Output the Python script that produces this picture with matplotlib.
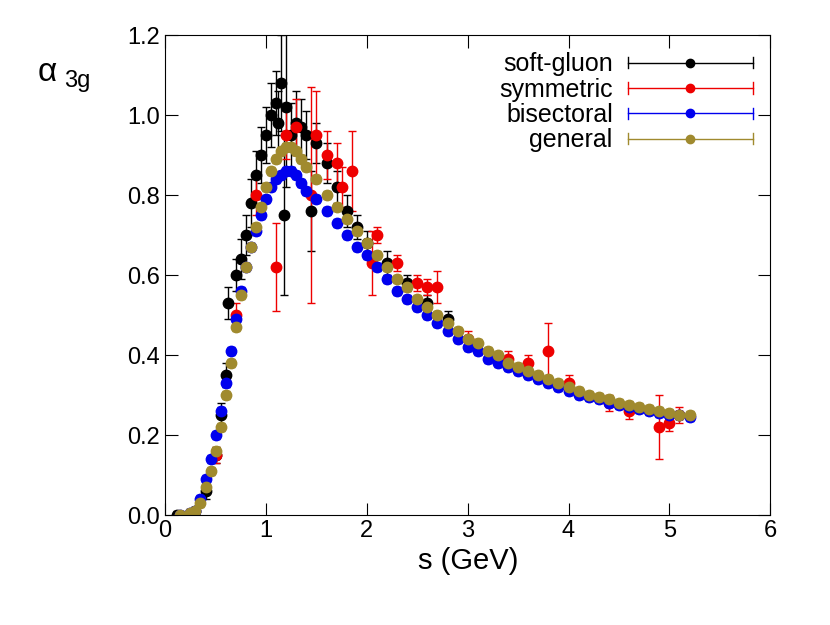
import matplotlib
matplotlib.use("Agg")
import matplotlib.pyplot as plt
from matplotlib.legend_handler import HandlerBase
from matplotlib.lines import Line2D

plt.rcParams['font.family'] = ['Liberation Sans', 'DejaVu Sans']

sg_s = [0.12,0.3,0.4,0.5,0.55,0.6,0.62,0.7,0.75,0.8,0.85,0.9,0.95,1.0,1.05,1.1,1.12,1.15,1.18,1.2,1.25,1.3,1.35,1.4,1.45,1.5,1.6,1.7,1.8,1.9,2.0,2.2,2.4,2.6,2.8]
sg_a = [0.0,0.01,0.06,0.15,0.25,0.35,0.53,0.6,0.64,0.7,0.78,0.85,0.9,0.95,1.0,1.03,0.98,1.08,0.75,1.02,0.95,0.98,0.97,0.95,0.76,0.93,0.88,0.82,0.76,0.72,0.68,0.63,0.58,0.53,0.49]
sg_e = [0.01,0.01,0.02,0.02,0.03,0.03,0.04,0.04,0.05,0.05,0.06,0.06,0.07,0.07,0.08,0.08,0.08,0.12,0.2,0.2,0.08,0.08,0.07,0.06,0.1,0.05,0.05,0.04,0.04,0.03,0.03,0.03,0.02,0.02,0.02]

sy_s = [0.5,0.7,0.9,1.1,1.2,1.3,1.45,1.5,1.6,1.7,1.75,1.85,2.05,2.1,2.3,2.5,2.6,2.7,3.0,3.4,3.6,3.8,4.0,4.4,4.6,4.9,5.0,5.1]
sy_a = [0.15,0.5,0.8,0.62,0.95,0.97,0.8,0.95,0.9,0.88,0.82,0.86,0.63,0.7,0.63,0.58,0.57,0.57,0.44,0.39,0.38,0.41,0.33,0.28,0.26,0.22,0.23,0.25]
sy_e = [0.02,0.03,0.05,0.11,0.06,0.07,0.27,0.11,0.06,0.05,0.05,0.1,0.08,0.02,0.02,0.02,0.02,0.04,0.02,0.02,0.02,0.07,0.02,0.02,0.02,0.08,0.02,0.02]

bi_s = [0.15,0.25,0.3,0.35,0.4,0.45,0.5,0.55,0.6,0.65,0.7,0.75,0.8,0.85,0.9,0.95,1.0,1.05,1.1,1.15,1.2,1.25,1.3,1.35,1.4,1.5,1.6,1.7,1.8,1.9,2.0,2.1,2.2,2.3,2.4,2.5,2.6,2.7,2.8,2.9,3.0,3.1,3.2,3.3,3.4,3.5,3.6,3.7,3.8,3.9,4.0,4.1,4.2,4.3,4.4,4.5,4.6,4.7,4.8,4.9,5.0,5.1,5.2]
bi_a = [0.0,0.005,0.01,0.04,0.09,0.14,0.2,0.26,0.33,0.41,0.49,0.56,0.62,0.67,0.71,0.75,0.79,0.82,0.84,0.85,0.86,0.86,0.85,0.83,0.81,0.79,0.76,0.73,0.70,0.67,0.65,0.62,0.59,0.56,0.54,0.52,0.50,0.48,0.46,0.44,0.42,0.41,0.39,0.38,0.37,0.36,0.35,0.34,0.33,0.32,0.31,0.30,0.295,0.29,0.28,0.275,0.27,0.265,0.26,0.255,0.25,0.25,0.245]
bi_e = [0.01]*len(bi_s)

ge_s = [0.15,0.25,0.3,0.35,0.4,0.45,0.5,0.55,0.6,0.65,0.7,0.75,0.8,0.85,0.9,0.95,1.0,1.05,1.1,1.15,1.2,1.25,1.3,1.35,1.4,1.5,1.6,1.7,1.8,1.9,2.0,2.1,2.2,2.3,2.4,2.5,2.6,2.7,2.8,2.9,3.0,3.1,3.2,3.3,3.4,3.5,3.6,3.7,3.8,3.9,4.0,4.1,4.2,4.3,4.4,4.5,4.6,4.7,4.8,4.9,5.0,5.1,5.2]
ge_a = [0.0,0.005,0.01,0.03,0.07,0.11,0.16,0.22,0.3,0.38,0.47,0.55,0.62,0.67,0.72,0.77,0.82,0.86,0.89,0.91,0.92,0.92,0.91,0.89,0.87,0.84,0.80,0.77,0.74,0.71,0.68,0.65,0.62,0.59,0.57,0.54,0.52,0.50,0.48,0.46,0.44,0.43,0.41,0.40,0.38,0.37,0.36,0.35,0.34,0.33,0.32,0.31,0.30,0.295,0.29,0.28,0.275,0.27,0.265,0.26,0.255,0.25,0.25]
ge_e = [0.01]*len(ge_s)

names = ['soft-gluon', 'symmetric', 'bisectoral', 'general']
colors = ['black', '#ee0000', '#0000ee', '#a08a2e']


class ErrLineHandler(HandlerBase):
    def create_artists(self, legend, orig, xd, yd, w, h, fontsize, trans):
        c = orig.get_color()
        y = yd + h / 2
        line = Line2D([xd, xd + w], [y, y], color=c, lw=1, transform=trans)
        c1 = Line2D([xd, xd], [y - 4, y + 4], color=c, lw=1, transform=trans)
        c2 = Line2D([xd + w, xd + w], [y - 4, y + 4], color=c, lw=1, transform=trans)
        dot = Line2D([xd + w / 2], [y], marker='o', ms=6, color=c, transform=trans)
        return [line, c1, c2, dot]


fig = plt.figure(figsize=(8.3, 6.25), dpi=100)
ax = fig.add_axes([0.199, 0.176, 0.729, 0.768])
kw = dict(fmt='o', ms=7.5, capsize=3, elinewidth=1, lw=1)
for s, a, e, c in [(sg_s, sg_a, sg_e, colors[0]), (sy_s, sy_a, sy_e, colors[1]),
                   (bi_s, bi_a, bi_e, colors[2]), (ge_s, ge_a, ge_e, colors[3])]:
    ax.errorbar(s, a, yerr=e, color=c, **kw)

ax.set_xlim(0, 6)
ax.set_ylim(0, 1.2)
ax.set_xticks(range(7))
ax.set_yticks([0, 0.2, 0.4, 0.6, 0.8, 1.0, 1.2])
ax.set_yticklabels(['0.0', '0.2', '0.4', '0.6', '0.8', '1.0', '1.2'])
ax.tick_params(direction='in', top=True, right=True, labelsize=17, length=9)
ax.set_xlabel('s (GeV)', fontsize=21)
fig.text(0.045, 0.87, 'α', fontsize=24)
fig.text(0.077, 0.86, '3g', fontsize=17)

handles = [Line2D([], [], color=c) for c in colors]
leg = ax.legend(handles, names, loc='upper right', frameon=False, markerfirst=False,
                fontsize=18, handlelength=5, borderaxespad=0.3, labelspacing=0.05,
                handletextpad=0.6, handler_map={Line2D: ErrLineHandler()})
fig.savefig('out.png', dpi=100)
